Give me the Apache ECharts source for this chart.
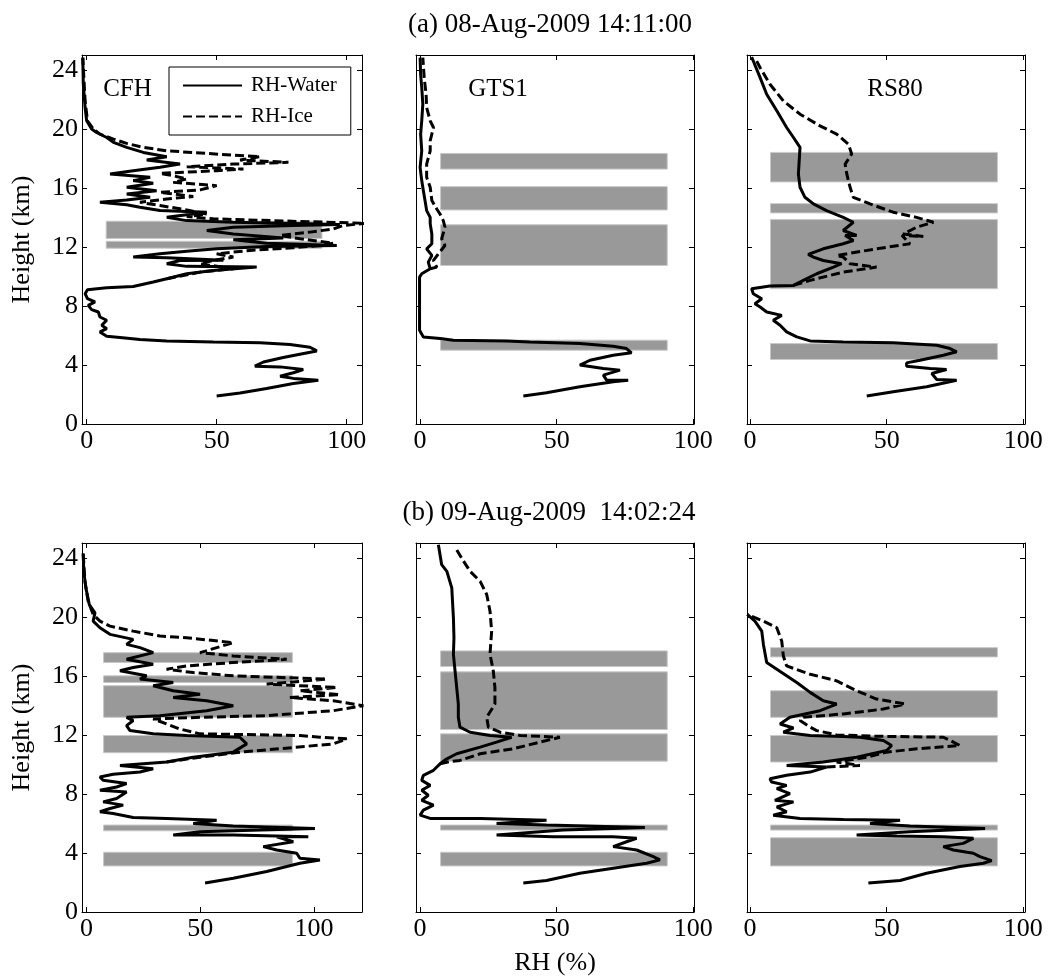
<!DOCTYPE html>
<html><head><meta charset="utf-8">
<script src="https://cdn.jsdelivr.net/npm/echarts@6/dist/echarts.min.js"></script>
<style>html,body{margin:0;padding:0;background:#fff}#c{width:1050px;height:977px}</style>
</head><body><div id="c"></div>
<script>
// ---------- DATA: points are [RH (%), Height (km)] ----------
const Y_TICKS = [0, 4, 8, 12, 16, 20, 24];
const X_TICKS = [0, 50, 100];
const SERIES_NAMES = ['RH-Water', 'RH-Ice'];
const PANEL_LABELS = ['CFH', 'GTS1', 'RS80'];
const ROW_TITLES = ['(a) 08-Aug-2009 14:11:00', '(b) 09-Aug-2009  14:02:24'];
const BAR_RH_RANGE = [7.5, 90.5];

const A_CFH_WATER = [[50,1.9],[59,2.1],[69.2,2.4],[79.5,2.75],[89.1,2.97],[79.5,3.09],[74.4,3.24],[79.5,3.47],[83.3,3.69],[74.4,3.87],[64.7,3.92],[68,4.2],[75.6,4.5],[82,4.73],[88.5,4.95],[85.9,5.2],[78.2,5.38],[66.7,5.5],[48.7,5.56],[30.8,5.63],[20.5,5.72],[12.8,5.86],[7.7,5.95],[5.1,6.24],[7.7,6.46],[5.8,6.69],[7.7,7.03],[5.1,7.25],[4.5,7.59],[1.9,7.75],[0.6,8.04],[3.2,8.27],[0.3,8.49],[-0.6,8.83],[0.3,9.1],[7.7,9.23],[17.9,9.32],[25.6,9.62],[30.8,9.84],[38.5,10.18],[48.7,10.4],[65.4,10.63],[38.5,10.68],[30.8,10.86],[35.9,11.08],[52.6,11.1],[30.8,11.26],[17.9,11.31],[28.2,11.53],[38.5,11.71],[50,11.87],[69.2,12.03],[96.2,12.09],[69.2,12.25],[56.4,12.48],[75.6,12.61],[56.4,12.88],[46.2,13.11],[56.4,13.33],[79.5,13.45],[97.4,13.51],[56.4,13.67],[38.5,13.78],[30.8,14.0],[46.2,14.35],[28.2,14.46],[20.5,14.68],[15.4,14.86],[5.1,15.02],[15.4,15.18],[24.4,15.36],[15.4,15.59],[26.9,15.81],[15.4,16.04],[25.6,16.31],[17.9,16.49],[24.4,16.71],[9,16.94],[17.9,17.16],[28.2,17.39],[35.9,17.61],[23.1,17.88],[30.8,18.11],[21.8,18.4],[15.4,18.74],[10.3,19.08],[7.7,19.41],[3.8,19.75],[1.9,19.98],[0,20.54],[-0.6,21.44],[-1.3,23.02],[-1.5,24.82]];
const A_CFH_ICE = [[30.8,9.84],[43.6,10.29],[56.4,10.52],[43.6,10.86],[48.7,11.08],[56.4,11.31],[50,11.53],[62.8,11.76],[79.5,11.94],[89.7,12.09],[94.9,12.25],[82.1,12.55],[74.4,12.77],[85.9,13.0],[94.9,13.22],[98.7,13.45],[107.7,13.6],[82,13.72],[48.7,13.9],[38.5,14.05],[46.2,14.23],[38.5,14.5],[28.2,14.8],[20.5,15.02],[30.8,15.25],[41,15.41],[28.2,15.7],[43.6,15.86],[50,16.15],[33.3,16.37],[38.5,16.6],[33.3,16.82],[28.2,16.98],[50,17.16],[60.3,17.27],[38.5,17.43],[56.4,17.61],[77.6,17.73],[59,17.88],[66.7,18.11],[46.2,18.33],[30.8,18.51],[21.8,18.74],[15.4,19.01],[10.3,19.3],[5.1,19.64],[2.6,19.98],[0.3,20.54],[-0.6,21.9],[-1.3,24.14],[-1.5,24.82]];
const A_GTS1_WATER = [[37.8,1.9],[46.3,2.12],[58.5,2.52],[70.7,2.86],[76.2,2.97],[68.3,2.97],[67.1,3.31],[73.2,3.65],[67.1,3.76],[58.5,3.99],[57.9,4.1],[62.2,4.32],[70.7,4.66],[77.4,4.82],[75.6,5.11],[70.7,5.27],[58.5,5.45],[40.2,5.56],[31.7,5.63],[12.2,5.68],[7.3,5.79],[1.2,5.9],[-0.2,6.35],[-0.2,9.95],[0.6,10.18],[3.7,10.52],[3.0,10.97],[4.3,11.42],[2.4,11.87],[4.3,12.21],[4.3,12.88],[3.7,13.56],[3.7,14.0],[2.4,14.46],[1.8,15.14],[1.2,15.81],[0.6,16.49],[0,17.39],[0.6,18.51],[0.2,19.64],[0.6,20.54],[1.0,21.67],[0.6,22.8],[0.2,23.69],[0,24.82]];
const A_GTS1_ICE = [[3.7,10.52],[6.1,10.63],[4.9,11.08],[6.7,11.53],[9.1,12.09],[7.9,12.55],[9.1,13.33],[8.5,13.78],[7.3,14.23],[6.1,14.57],[4.3,15.14],[3.7,16.04],[2.4,16.71],[2.4,17.61],[3.7,18.51],[3.7,19.19],[4.9,20.09],[3.7,20.54],[2.4,21.44],[2.2,22.34],[1.5,23.47],[1.0,24.82]];
const A_RS80_WATER = [[42.7,1.9],[52.4,2.18],[64.6,2.52],[75.6,2.97],[68.3,3.02],[66.5,3.42],[71.9,3.69],[65.9,3.76],[57.3,3.92],[57.3,4.14],[62.2,4.32],[70.7,4.66],[75.6,4.89],[73.2,5.11],[68.3,5.34],[52.4,5.5],[34.1,5.56],[22,5.63],[17.1,5.9],[13.4,6.24],[11,6.69],[8.5,7.03],[11.6,7.36],[6.1,7.59],[3.7,7.93],[1.8,8.15],[4.3,8.49],[1.2,8.83],[0.6,9.17],[7.3,9.35],[15.9,9.39],[19.5,9.73],[24.4,10.18],[30.5,10.63],[33.5,10.86],[26.8,11.08],[23.2,11.31],[21.3,11.49],[26.8,11.87],[34.1,12.21],[37.8,12.43],[34.8,12.77],[39,12.77],[34.1,13.11],[37.8,13.67],[34.1,14.0],[28,14.46],[23.2,14.91],[20.1,15.36],[18.3,16.04],[17.7,16.94],[18,17.84],[18.3,18.74],[15.9,19.41],[13.4,20.09],[9.8,21.22],[6.1,22.34],[3.7,23.47],[1.2,24.59],[0.6,24.86]];
const A_RS80_ICE = [[15.9,9.39],[22,9.73],[34.1,10.29],[46.3,10.63],[36.6,10.86],[34.1,11.31],[31.7,11.42],[46.3,11.87],[58.5,12.21],[55.6,12.77],[63.4,12.7],[56.1,12.88],[60.9,13.33],[67.1,13.67],[60.9,14.0],[52.4,14.35],[43.9,14.91],[37.8,15.36],[36.6,16.04],[35.4,16.94],[34.8,17.61],[37.2,18.29],[36,18.96],[31.7,19.64],[25.6,20.2],[18.3,20.99],[12.2,21.89],[7.3,23.02],[3.7,24.14],[1.8,24.82]];

const B_CFH_WATER = [[52.1,1.96],[64.5,2.29],[79.2,2.74],[93.8,3.3],[102.6,3.53],[93.8,3.64],[92.4,3.98],[83.6,4.2],[77.7,4.43],[90.9,4.76],[83.6,5.1],[97.5,5.1],[64.5,5.21],[38.1,5.21],[49.9,5.44],[76.2,5.55],[100.4,5.66],[64.5,5.82],[46.9,6.0],[57.2,6.22],[35.2,6.34],[20.5,6.4],[11.7,6.67],[5.9,6.79],[10.3,7.01],[16.1,7.24],[7.3,7.46],[13.2,7.69],[17.6,8.13],[5.9,8.25],[13.2,8.47],[17.6,8.7],[7.3,8.92],[5.9,9.15],[11.7,9.33],[23.5,9.48],[29.3,9.71],[14.7,9.93],[35.2,10.16],[46.9,10.49],[64.5,10.83],[70.4,11.39],[67.4,11.84],[44,11.96],[29.3,12.07],[19.1,12.29],[17.6,12.63],[20.5,12.97],[17.6,13.19],[32.3,13.3],[52.8,13.64],[64.5,13.98],[52.8,14.31],[38.1,14.54],[49.9,14.76],[38.1,14.99],[29.3,15.33],[38.1,15.55],[23.5,15.78],[26.4,16.0],[14.7,16.34],[20.5,16.56],[29.3,16.79],[17.6,17.12],[29.3,17.57],[23.5,17.91],[17.6,18.13],[20.5,18.47],[10.3,18.81],[5.9,19.26],[2.9,19.71],[3.7,20.27],[1.2,20.83],[-0.3,21.96],[-1.2,23.08],[-1.5,24.31]];
const B_CFH_ICE = [[35.2,10.16],[49.9,10.49],[67.4,10.83],[85,11.06],[108.5,11.39],[114.4,11.73],[102.6,11.84],[93.8,11.96],[49.9,12.07],[41,12.4],[35.2,12.74],[29.3,13.08],[49.9,13.19],[79.2,13.3],[108.5,13.64],[121.7,13.98],[108.5,14.31],[89.4,14.54],[111.4,14.72],[93.8,14.99],[110,15.21],[79.2,15.44],[105.6,15.78],[64.5,16.0],[46.9,16.22],[35.2,16.45],[44,16.67],[64.5,16.9],[88,17.12],[64.5,17.35],[49.9,17.57],[64.5,18.25],[44,18.58],[32.3,18.7],[20.5,19.03],[10.3,19.37],[5.9,19.71],[2.9,20.16],[0.7,21.06],[-0.7,22.4],[-1.5,24.31]];
const B_GTS1_WATER = [[37.8,1.96],[46.3,2.13],[58.5,2.63],[70.7,2.97],[82.9,3.3],[87.8,3.53],[85.4,3.75],[79.3,4.2],[70.7,4.43],[75.6,4.76],[79.3,4.99],[70.7,5.1],[48.8,5.1],[28,5.21],[52.4,5.55],[82.3,5.73],[46.3,5.89],[28,6.0],[46.3,6.22],[22,6.34],[3.7,6.34],[0,6.56],[1.2,6.9],[4.9,7.24],[0.6,7.57],[3.0,7.91],[0.6,8.25],[3.7,8.58],[0.6,8.92],[1.2,9.26],[4.9,9.6],[7.3,10.04],[9.8,10.38],[13.4,10.72],[22,11.17],[28,11.51],[33.5,11.84],[25.6,11.96],[18.3,12.18],[14.6,12.52],[14,13.19],[14,14.09],[13.4,15.21],[12.8,16.34],[12.2,17.46],[12.4,18.58],[12.2,19.93],[11.6,21.96],[9.8,23.08],[7.9,23.53],[7.1,24.43],[6.7,24.88]];
const B_GTS1_ICE = [[7.3,10.04],[11,10.2],[14.6,10.27],[22,10.72],[34.1,11.06],[43.9,11.51],[51.2,11.84],[36.6,11.96],[29.3,12.18],[25,12.52],[24.4,13.19],[27.4,14.09],[27.4,15.21],[26.8,16.34],[25.6,17.46],[26.2,19.03],[25.6,20.38],[24.4,21.51],[22,22.4],[18.3,23.08],[15.2,23.98],[13.4,24.54]];
const B_RS80_WATER = [[43.3,1.96],[54.9,2.13],[64.6,2.63],[76.8,3.08],[85.4,3.3],[88.4,3.48],[84.1,3.75],[81.7,3.98],[74.4,4.2],[70.7,4.43],[78,4.65],[81.7,4.99],[70.7,5.1],[53.7,5.15],[39,5.21],[58.5,5.44],[86,5.66],[58.5,5.82],[43.9,6.0],[54.9,6.22],[34.1,6.27],[18.3,6.34],[8.5,6.56],[13.4,6.79],[9.8,7.12],[15.9,7.46],[9.1,7.57],[14.6,8.02],[9.8,8.36],[13.4,8.58],[7.9,8.81],[7.3,9.03],[13.4,9.26],[22,9.48],[28,9.82],[13.4,9.93],[26.8,10.16],[39,10.49],[50,10.94],[51.8,11.28],[48.8,11.62],[40.2,11.84],[34.1,11.89],[22,11.96],[12.2,12.18],[15.9,12.47],[11,12.74],[14.6,13.19],[25.6,13.64],[31.7,14.09],[26.8,14.31],[22,14.88],[17.1,15.55],[9.8,16.45],[6.1,16.9],[4.9,18.13],[4.3,19.03],[1.8,19.71],[-1.0,20.16]];
const B_RS80_ICE = [[28,9.82],[40.2,9.93],[31.7,10.16],[42.7,10.49],[50,10.83],[61,11.06],[76.8,11.28],[73.2,11.62],[70.7,11.84],[46.3,11.91],[31.7,12.0],[24.4,12.29],[22,12.52],[18.3,12.97],[19.5,13.19],[34.1,13.42],[48.8,13.75],[56.7,14.09],[46.3,14.43],[39,14.99],[31.7,15.66],[22,16.11],[13.4,16.67],[12.2,17.35],[11.6,18.36],[9.8,19.26],[4.9,19.71],[-1.0,20.16]];

// shaded layers: [bottom km, top km]
const A_CFH_BARS = [[12.57,13.74],[11.91,12.38]];
const A_GTS1_BARS = [[17.27,18.33],[14.5,16.08],[10.74,13.5],[5.0,5.68]];
const A_RS80_BARS = [[16.4,18.4],[14.3,14.93],[9.17,13.85],[4.37,5.45]];
const B_CFH_BARS = [[16.9,17.57],[15.55,16.0],[13.19,15.33],[10.79,11.96],[5.5,5.89],[3.12,4.05]];
const B_GTS1_BARS = [[16.63,17.69],[12.36,16.27],[10.22,12.07],[5.55,5.89],[3.12,4.05]];
const B_RS80_BARS = [[17.28,17.91],[13.19,14.99],[10.16,11.96],[5.55,5.89],[3.12,5.03]];

// x-axis extents for each panel
const X_RANGE_A_CFH = [-1.8, 105.9];
const X_RANGE_B_CFH = [-2.0, 121.1];
const X_RANGE_GTS1 = [-1.5, 100.3];
const X_RANGE_RS80 = [-1.1, 100.6];

// ---------- LAYOUT ----------
const FONT = 'Liberation Serif';
const GRID_LEFT = [82, 416, 747], GRID_W = [280, 278, 278], GRID_TOP = [55, 543], GRID_H = 369;
const panels = [
  {row:0,col:0,water:A_CFH_WATER,ice:A_CFH_ICE,bars:A_CFH_BARS,x:X_RANGE_A_CFH},
  {row:0,col:1,water:A_GTS1_WATER,ice:A_GTS1_ICE,bars:A_GTS1_BARS,x:X_RANGE_GTS1},
  {row:0,col:2,water:A_RS80_WATER,ice:A_RS80_ICE,bars:A_RS80_BARS,x:X_RANGE_RS80},
  {row:1,col:0,water:B_CFH_WATER,ice:B_CFH_ICE,bars:B_CFH_BARS,x:X_RANGE_B_CFH},
  {row:1,col:1,water:B_GTS1_WATER,ice:B_GTS1_ICE,bars:B_GTS1_BARS,x:X_RANGE_GTS1},
  {row:1,col:2,water:B_RS80_WATER,ice:B_RS80_ICE,bars:B_RS80_BARS,x:X_RANGE_RS80}
];
const txt = (size) => ({fontFamily:FONT, fontSize:size, color:'#000', fontWeight:'normal'});
const onTick = (v, ticks) => ticks.some(t => Math.abs(t - v) < 1e-6);

const option = {
  animation:false, backgroundColor:'#fff',
  grid:[], xAxis:[], yAxis:[], series:[],
  title:[
    {text:ROW_TITLES[0], left:550, top:11, textAlign:'center', padding:0, textStyle:txt(27)},
    {text:ROW_TITLES[1], left:549, top:499, textAlign:'center', padding:0, textStyle:txt(27)},
    {text:PANEL_LABELS[0], left:127.5, top:77, textAlign:'center', padding:0, textStyle:txt(25)},
    {text:PANEL_LABELS[1], left:498, top:77, textAlign:'center', padding:0, textStyle:txt(25)},
    {text:PANEL_LABELS[2], left:895, top:77, textAlign:'center', padding:0, textStyle:txt(25)}
  ],
  legend:{
    data:SERIES_NAMES, orient:'vertical', left:169, top:67, padding:[8,14,8,13],
    itemWidth:59, itemHeight:14, itemGap:10, borderColor:'#000', borderWidth:1, borderRadius:0,
    backgroundColor:'#fff', selectedMode:false,
    itemStyle:{opacity:0, borderWidth:0},
    textStyle:Object.assign(txt(21), {padding:[0,0,0,4]})
  }
};

panels.forEach((p, i) => {
  option.grid.push({left:GRID_LEFT[p.col], top:GRID_TOP[p.row], width:GRID_W[p.col], height:GRID_H});
  const axLine = {show:true, onZero:false, lineStyle:{color:'#000', width:1}};
  const axTick = {show:true, inside:true, length:5, lineStyle:{color:'#000', width:1}};
  const xBase = {type:'value', gridIndex:i, min:p.x[0], max:p.x[1], splitNumber:2,
    splitLine:{show:false}, axisLine:axLine, axisTick:axTick};
  const isRHName = (p.row === 1 && p.col === 1);
  option.xAxis.push(Object.assign({}, xBase, {
    position:'bottom',
    axisLabel:Object.assign(txt(26), {show:true, margin:4, formatter:v => onTick(v, X_TICKS) ? String(Math.round(v)) : ''}),
    name:isRHName ? 'RH (%)' : '', nameLocation:'middle', nameGap:38, nameTextStyle:txt(26)
  }));
  option.xAxis.push(Object.assign({}, xBase, {position:'top', axisLabel:{show:false}}));
  const yBase = {type:'value', gridIndex:i, min:0, max:25, interval:4,
    splitLine:{show:false}, axisLine:axLine, axisTick:axTick};
  option.yAxis.push(Object.assign({}, yBase, {
    position:'left',
    axisLabel:Object.assign(txt(26), {show:p.col === 0, margin:4, formatter:v => onTick(v, Y_TICKS) ? String(v) : ''}),
    name:p.col === 0 ? 'Height (km)' : '', nameLocation:'middle', nameGap:47, nameRotate:90, nameTextStyle:txt(26)
  }));
  option.yAxis.push(Object.assign({}, yBase, {position:'right', axisLabel:{show:false}}));

  const xi = 2 * i, yi = 2 * i;
  option.series.push({
    type:'custom', xAxisIndex:xi, yAxisIndex:yi, z:1, silent:true,
    encode:{x:[0,1], y:[2,3]},
    data:p.bars.map(b => [BAR_RH_RANGE[0], BAR_RH_RANGE[1], b[0], b[1]]),
    renderItem:(params, api) => {
      const a = api.coord([api.value(0), api.value(3)]);
      const b = api.coord([api.value(1), api.value(2)]);
      return {type:'rect', shape:{x:a[0], y:a[1], width:b[0]-a[0], height:b[1]-a[1]},
        style:{fill:'#999999', stroke:'#c8c8c8', lineWidth:1}};
    }
  });
  option.series.push({
    type:'line', name:SERIES_NAMES[0], xAxisIndex:xi, yAxisIndex:yi, z:3,
    data:p.water, symbol:'none', showSymbol:false, clip:true,
    lineStyle:{color:'#000', width:3, type:'solid'}, itemStyle:{color:'#000'}
  });
  option.series.push({
    type:'line', name:SERIES_NAMES[1], xAxisIndex:xi, yAxisIndex:yi, z:3,
    data:p.ice, symbol:'none', showSymbol:false, clip:true,
    lineStyle:{color:'#000', width:3, type:[9,4]}, itemStyle:{color:'#000'}
  });
});

const chart = echarts.init(document.getElementById('c'), null, {renderer:'canvas'});
chart.setOption(option);
</script></body></html>
